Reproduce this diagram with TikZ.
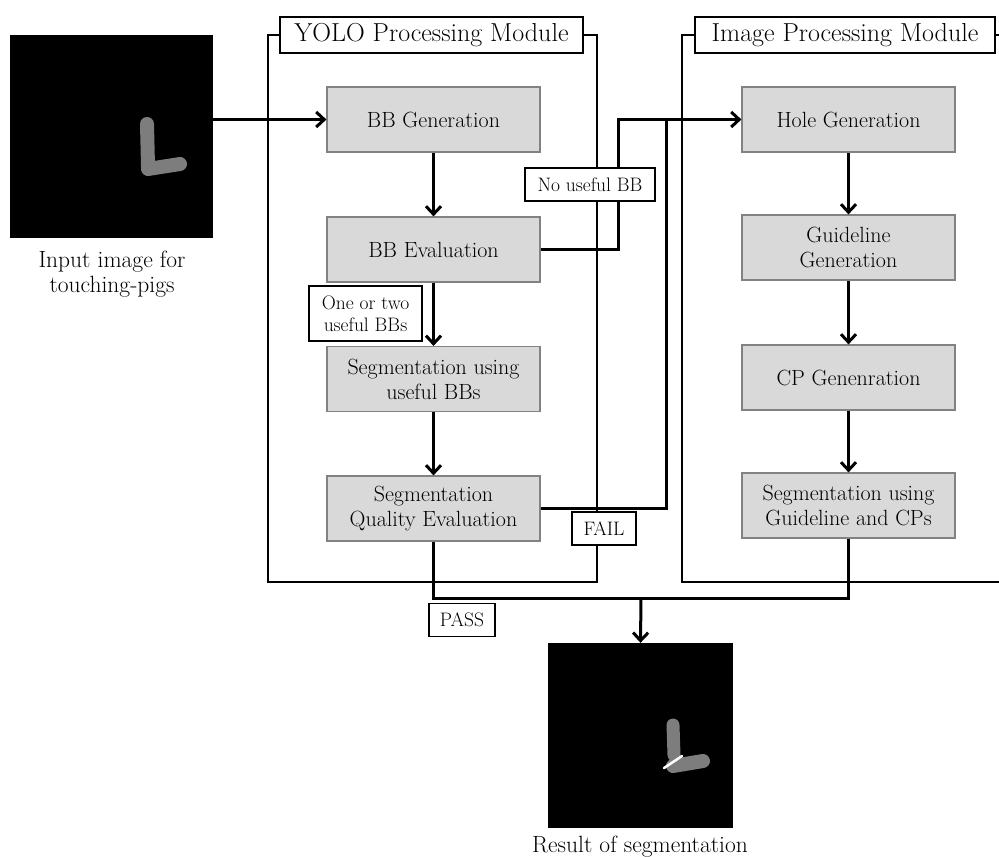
\documentclass[tikz,border=0pt]{standalone}
\usepackage{fontspec}
\usetikzlibrary{arrows.meta,positioning,calc}
\definecolor{boxfill}{RGB}{217,217,217}
\definecolor{boxedge}{RGB}{130,130,130}
\definecolor{piggray}{RGB}{125,125,125}
\newcommand{\boxfont}{\fontsize{22}{25}\selectfont}
\newcommand{\imgfont}{\fontsize{23.5}{25}\selectfont}
\newcommand{\tagfont}{\fontsize{19.5}{22}\selectfont}

\begin{document}
\begin{tikzpicture}[x=1pt,y=-1pt,>={Straight Barb[length=8pt,width=15pt]},
  stage/.style={draw=boxedge,fill=boxfill,line width=1.2pt,minimum width=213pt,
    minimum height=65pt,align=center,font=\boxfont,inner sep=2pt},
  tag/.style={draw,fill=white,line width=1.2pt,align=center,font=\tagfont,
    inner xsep=7pt,inner ysep=4pt,minimum height=33pt},
  flow/.style={line width=3pt},
  modline/.style={line width=1.2pt},
  modtitle/.style={draw,fill=white,line width=1.2pt,
    font=\fontsize{26}{28}\selectfont,minimum height=36pt,inner xsep=0pt}]
  \useasboundingbox (0,0) rectangle (999,857);
  % module frames
  \draw[modline] (268,35) rectangle (597,582);
  \draw[modline] (999,35) -- (682,35) -- (682,582) -- (999,582);
  \node[modtitle,minimum width=303pt] (yolo) at (431.5,35) {YOLO Processing Module};
  \node[modtitle,minimum width=300pt] (ipm) at (845,35) {Image Processing Module};

  % input and result images
  \node[fill=black,minimum size=203pt,inner sep=0pt] (inimg) at (111.5,136.5) {};
  \draw[piggray,line width=14pt,line cap=round] (147,124) -- (148,166);
  \draw[piggray,line width=14pt,line cap=round] (148,169) -- (180,164);
  \node[font=\imgfont,align=center] (inlbl) at (112,274) {Input image for\\touching-pigs};
  \node[fill=black,minimum size=185pt,inner sep=0pt] (outimg) at (640.5,735.5) {};
  \draw[piggray,line width=13pt,line cap=round] (673,725) -- (674,755);
  \draw[piggray,line width=14pt,line cap=round] (673,766) -- (703,761);
  \draw[white,line width=2.5pt,line cap=round] (664,768) -- (682,756);
  \node[font=\imgfont] (outlbl) at (640,847) {Result of segmentation};

  % stages
  \node[stage] (bbgen) at (433.5,119.5) {BB Generation};
  \node[stage] (bbeval) at (433.5,249.5) {BB Evaluation};
  \node[stage] (segbb) at (433.5,379) {Segmentation using\\useful BBs};
  \node[stage] (segqe) at (433.5,508.5) {Segmentation\\Quality Evaluation};
  \node[stage] (hole) at (848.5,119.5) {Hole Generation};
  \node[stage] (guide) at (848.5,247.5) {Guideline\\Generation};
  \node[stage] (cpgen) at (848.5,377.5) {CP Genenration};
  \node[stage] (segip) at (848.5,505.5) {Segmentation using\\Guideline and CPs};

  \coordinate (nobend) at ($(hole.west)+(-123,0)$);
  \coordinate (failtop) at ($(hole.west)+(-75,0)$);
  \coordinate (join) at (641,598);

  % connectors
  \draw[flow,->] (inimg.east |- bbgen.west) -- (bbgen.west);
  \draw[flow,->] (bbgen) -- (bbeval);
  \draw[flow,->] (bbeval) -- (segbb);
  \draw[flow,->] (segbb) -- (segqe);
  \draw[flow,->] (bbeval.east) -| (nobend) -- (hole.west);
  \draw[flow] (segqe.east) -| (failtop);
  \draw[flow,->] (hole) -- (guide);
  \draw[flow,->] (guide) -- (cpgen);
  \draw[flow,->] (cpgen) -- (segip);
  \draw[flow] (segqe.south) |- (join);
  \draw[flow] (segip.south) |- (join);
  \draw[flow,->] (join) -- (outimg.north);

  % decision labels
  \node[tag,minimum width=130pt] (notag) at (590,184.5) {No useful BB};
  \node[tag,minimum width=113pt,minimum height=55pt,inner xsep=4pt] (onetag) at (365.5,313.5) {One or two\\useful BBs};
  \node[tag,minimum width=64pt] (failtag) at (604,528.5) {FAIL};
  \node[tag,minimum width=66pt] (passtag) at (462,620) {PASS};
\end{tikzpicture}
\end{document}
